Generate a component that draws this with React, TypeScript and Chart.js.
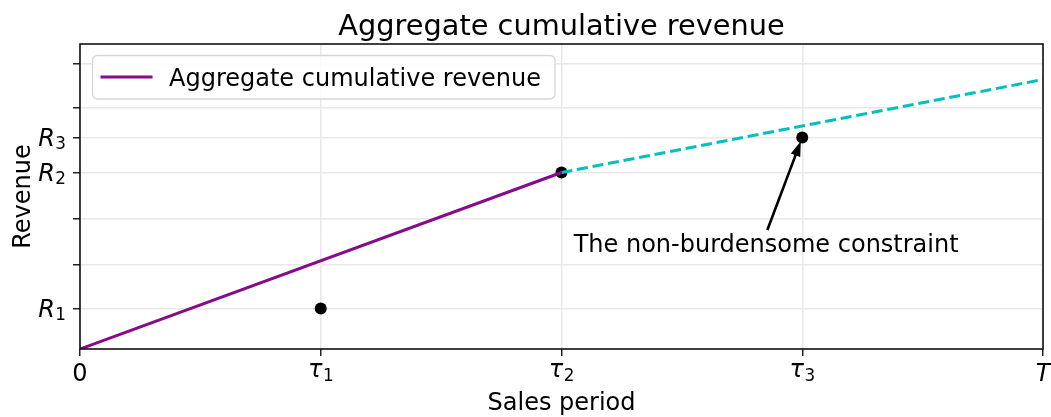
import { useEffect, useRef } from 'react';
import { Chart, registerables } from 'chart.js';

Chart.register(...registerables);

// ---------- data ----------
const chartTitle = 'Aggregate cumulative revenue';
const xAxisTitle = 'Sales period';
const yAxisTitle = 'Revenue';
const legendLabel = 'Aggregate cumulative revenue';

const xMin = 0;
const xMax = 4;
const yMin = 0;
const yMax = 6.1;

const xTickValues = [0, 1, 2, 3, 4];
const xTickLabels = ['0', 'τ_1', 'τ_2', 'τ_3', 'T'];
const yTickValues = [0.81, 1.69, 2.6, 3.53, 4.23, 4.83, 5.71];
const yTickLabels = ['R_1', '', '', 'R_2', 'R_3', '', ''];

const revenueX = [0, 2];
const revenueY = [0, 3.53];
const projectedX = [2, 4];
const projectedY = [3.53, 5.39];
const pointX = [1, 2, 3];
const pointY = [0.81, 3.53, 4.23];

const annotationText = 'The non-burdensome constraint';
const annotationTarget = [3, 4.23];
const annotationTextPos = [2.85, 1.934];
const annotationTail = [2.855, 2.38];

// ---------- styles ----------
const PURPLE = '#860a8a';
const CYAN = '#00bfbf';
const FONT = '"DejaVu Sans", "Liberation Sans", sans-serif';
const BASE = 24;
const SUB = 16.8;
const SUB_SHIFT = 3.5;

function parseLabel(s: string) {
  const [base, sub] = s.split('_');
  return { base: base || '', sub: sub || '' };
}
function baseFont(b: string) {
  return (/^[0-9]+$/.test(b) ? '' : 'italic ') + `${BASE}px ${FONT}`;
}
function measureMath(ctx: CanvasRenderingContext2D, s: string) {
  const { base, sub } = parseLabel(s);
  ctx.font = baseFont(base);
  const mb = ctx.measureText(base);
  let w = mb.width;
  let asc = mb.actualBoundingBoxAscent;
  let subW = 0;
  if (sub) {
    ctx.font = `${SUB}px ${FONT}`;
    const ms = ctx.measureText(sub);
    subW = ms.width;
    asc = Math.max(asc, ms.actualBoundingBoxAscent - SUB_SHIFT);
  }
  return { base, sub, baseW: w, width: w + subW + (sub ? 0.5 : 0), ascent: asc };
}
function drawMath(ctx: CanvasRenderingContext2D, s: string, xLeft: number, baseline: number) {
  const m = measureMath(ctx, s);
  ctx.textAlign = 'left';
  ctx.textBaseline = 'alphabetic';
  ctx.font = baseFont(m.base);
  ctx.fillText(m.base, xLeft, baseline);
  if (m.sub) {
    ctx.font = `${SUB}px ${FONT}`;
    ctx.fillText(m.sub, xLeft + m.baseW + 0.5, baseline + SUB_SHIFT);
  }
}

const overlay = {
  id: 'overlay',
  afterDraw(chart: any) {
    const ctx: CanvasRenderingContext2D = chart.ctx;
    const { left, right, top, bottom } = chart.chartArea;
    const xs = chart.scales.x;
    const ys = chart.scales.y;
    ctx.save();

    // frame
    ctx.strokeStyle = '#111';
    ctx.lineWidth = 1.6;
    ctx.strokeRect(left, top, right - left, bottom - top);

    ctx.fillStyle = '#000';
    // x tick labels (top-aligned)
    xTickValues.forEach((v, i) => {
      const lab = xTickLabels[i];
      if (!lab) return;
      const m = measureMath(ctx, lab);
      const px = xs.getPixelForValue(v);
      const baseline = bottom + 7 + 7 + m.ascent;
      drawMath(ctx, lab, px - m.width / 2, baseline);
    });
    // y tick labels
    yTickValues.forEach((v, i) => {
      const lab = yTickLabels[i];
      if (!lab) return;
      const m = measureMath(ctx, lab);
      const py = ys.getPixelForValue(v);
      drawMath(ctx, lab, left - 14 - m.width, py + 8.4);
    });

    // title
    ctx.fillStyle = '#000';
    ctx.font = `${BASE * 1.2}px ${FONT}`;
    ctx.textAlign = 'center';
    ctx.textBaseline = 'alphabetic';
    ctx.fillText(chartTitle, (left + right) / 2, 35);

    // axis titles
    ctx.font = `${BASE}px ${FONT}`;
    ctx.fillText(xAxisTitle, (left + right) / 2, 410);
    ctx.save();
    ctx.translate(29.5, (top + bottom) / 2);
    ctx.rotate(-Math.PI / 2);
    ctx.fillText(yAxisTitle, 0, 0);
    ctx.restore();

    // legend
    const lx = 92.5, ly = 55.5, lw = 462.5, lh = 43.5, r = 5;
    ctx.beginPath();
    ctx.moveTo(lx + r, ly);
    ctx.arcTo(lx + lw, ly, lx + lw, ly + lh, r);
    ctx.arcTo(lx + lw, ly + lh, lx, ly + lh, r);
    ctx.arcTo(lx, ly + lh, lx, ly, r);
    ctx.arcTo(lx, ly, lx + lw, ly, r);
    ctx.closePath();
    ctx.fillStyle = 'rgba(255,255,255,0.8)';
    ctx.fill();
    ctx.strokeStyle = '#d6d6d6';
    ctx.lineWidth = 1.3;
    ctx.stroke();
    ctx.strokeStyle = PURPLE;
    ctx.lineWidth = 3;
    ctx.beginPath();
    ctx.moveTo(100.5, 77);
    ctx.lineTo(152.5, 77);
    ctx.stroke();
    ctx.fillStyle = '#000';
    ctx.textAlign = 'left';
    ctx.font = `${BASE}px ${FONT}`;
    ctx.fillText(legendLabel, 169, 85.7);

    // annotation
    const tx = xs.getPixelForValue(annotationTextPos[0]);
    const ty = ys.getPixelForValue(annotationTextPos[1]);
    ctx.textAlign = 'center';
    ctx.fillText(annotationText, tx, ty);
    const ax = xs.getPixelForValue(annotationTail[0]);
    const ay = ys.getPixelForValue(annotationTail[1]);
    const px = xs.getPixelForValue(annotationTarget[0]);
    const py = ys.getPixelForValue(annotationTarget[1]);
    const dx = px - ax, dy = py - ay;
    const len = Math.hypot(dx, dy);
    const ux = dx / len, uy = dy / len;
    const hx = px - ux * 4, hy = py - uy * 4; // tip
    const headLen = 15, headHalf = 5;
    const bx = hx - ux * headLen, by = hy - uy * headLen;
    ctx.strokeStyle = '#000';
    ctx.lineWidth = 2.6;
    ctx.beginPath();
    ctx.moveTo(ax, ay);
    ctx.lineTo(bx + ux * 2, by + uy * 2);
    ctx.stroke();
    ctx.fillStyle = '#000';
    ctx.beginPath();
    ctx.moveTo(hx, hy);
    ctx.lineTo(bx - uy * headHalf, by + ux * headHalf);
    ctx.lineTo(bx + uy * headHalf, by - ux * headHalf);
    ctx.closePath();
    ctx.fill();

    ctx.restore();
  },
};

export default function App() {
  const ref = useRef<HTMLCanvasElement>(null);
  useEffect(() => {
    const canvas = ref.current;
    if (!canvas) return;
    const gridOpts = {
      color: '#e8e8e8',
      lineWidth: 1.5,
      tickColor: '#222',
      tickWidth: 1.5,
      tickLength: 7,
      drawTicks: true,
    };
    const chart = new Chart(canvas, {
      type: 'scatter',
      data: {
        datasets: [
          {
            label: legendLabel,
            data: revenueX.map((x, i) => ({ x, y: revenueY[i] })),
            showLine: true,
            borderColor: PURPLE,
            backgroundColor: PURPLE,
            borderWidth: 3,
            pointRadius: 0,
            tension: 0,
          },
          {
            label: 'projection',
            data: projectedX.map((x, i) => ({ x, y: projectedY[i] })),
            showLine: true,
            borderColor: CYAN,
            backgroundColor: CYAN,
            borderWidth: 3,
            borderDash: [11, 4.8],
            pointRadius: 0,
            tension: 0,
          },
          {
            label: 'points',
            data: pointX.map((x, i) => ({ x, y: pointY[i] })),
            backgroundColor: '#000',
            borderColor: '#000',
            borderWidth: 0,
            pointRadius: 6,
          },
        ],
      },
      options: {
        responsive: false,
        animation: false,
        devicePixelRatio: 1,
        layout: { padding: { left: 0, right: 8, top: 44, bottom: 0 } },
        plugins: {
          legend: { display: false },
          tooltip: { enabled: false },
          title: { display: false },
        },
        scales: {
          x: {
            type: 'linear',
            min: xMin,
            max: xMax,
            afterBuildTicks: (s: any) => {
              s.ticks = xTickValues.map((v) => ({ value: v }));
            },
            afterFit: (s: any) => {
              s.height = 68;
            },
            ticks: { display: false },
            grid: gridOpts,
            border: { display: false },
          },
          y: {
            type: 'linear',
            min: yMin,
            max: yMax,
            afterBuildTicks: (s: any) => {
              s.ticks = yTickValues.map((v) => ({ value: v }));
            },
            afterFit: (s: any) => {
              s.width = 80;
            },
            ticks: { display: false },
            grid: gridOpts,
            border: { display: false },
          },
        },
      } as any,
      plugins: [overlay],
    });
    return () => chart.destroy();
  }, []);
  return (
    <div style={{ position: 'fixed', left: 0, top: 0, width: 1051, height: 417, background: '#fff' }}>
      <canvas ref={ref} width={1051} height={417} style={{ display: 'block', width: 1051, height: 417 }} />
    </div>
  );
}
